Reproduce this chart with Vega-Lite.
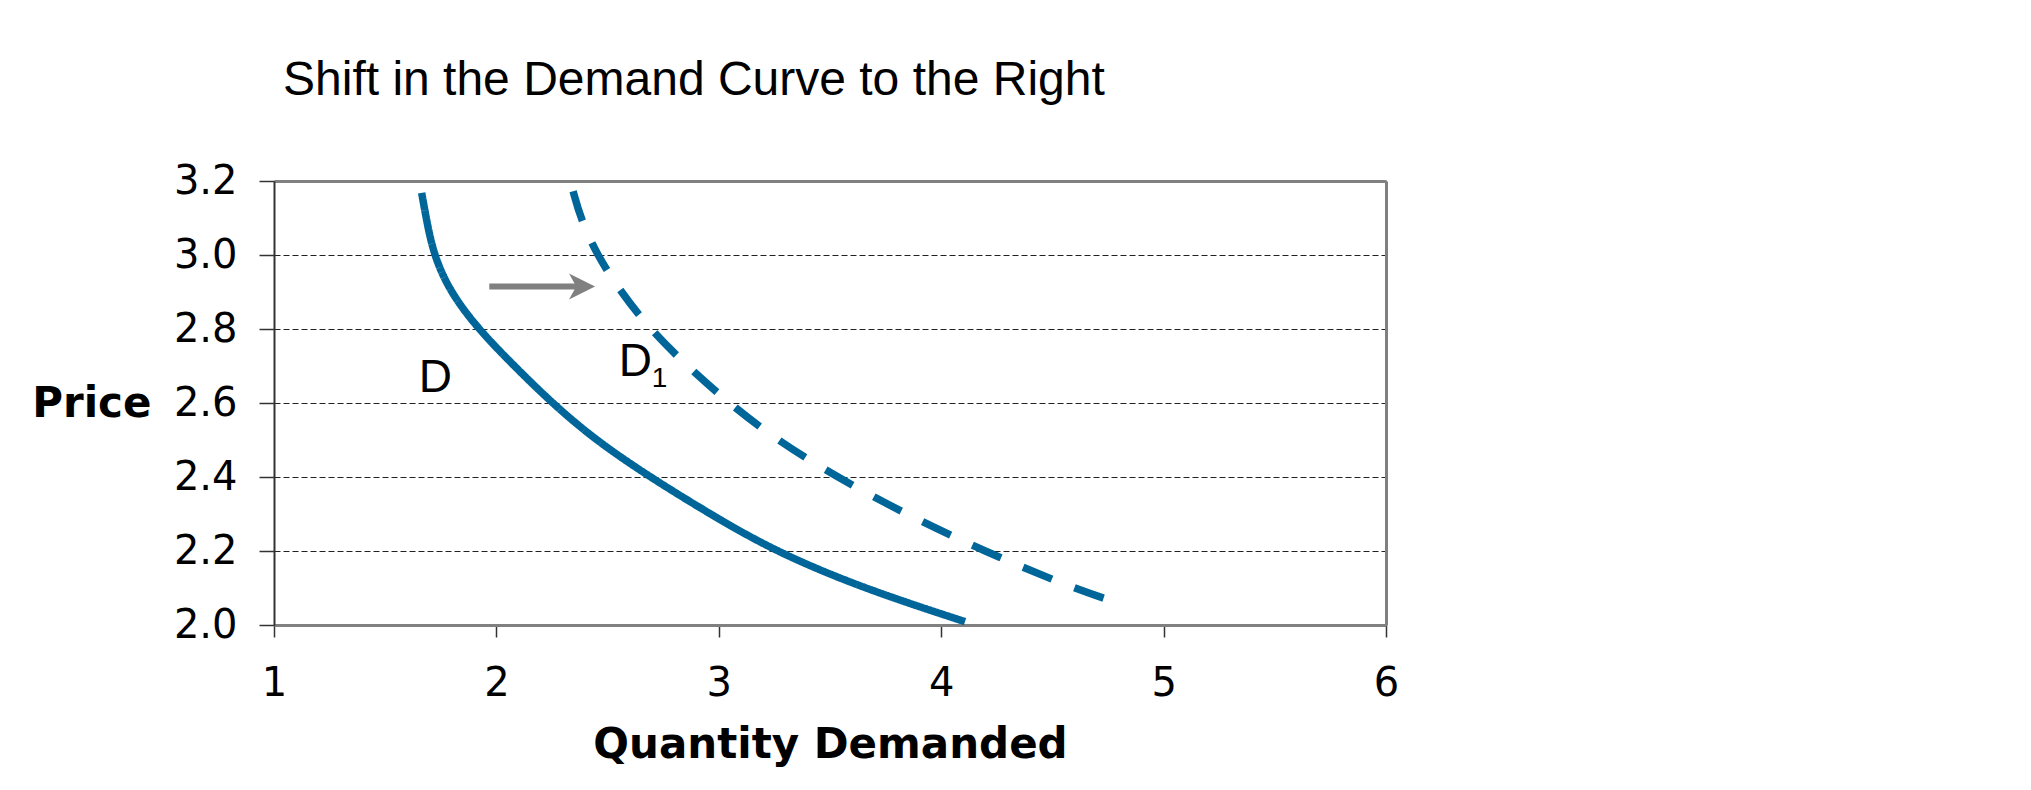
{
  "$schema": "https://vega.github.io/schema/vega-lite/v6.json",
  "autosize": {"type": "none"},
  "padding": {"left": 274, "top": 181, "right": 645, "bottom": 165},
  "width": 1112,
  "height": 444,
  "background": "white",
  "title": {
    "text": "Shift in the Demand Curve to the Right",
    "anchor": "start",
    "frame": "group",
    "dx": 9,
    "offset": 18,
    "baseline": "alphabetic",
    "fontSize": 48,
    "fontWeight": "normal",
    "font": "Liberation Sans",
    "color": "black"
  },
  "datasets": {
    "curves": [
      {"curve": "D", "q": 1.664, "p": 3.168},
      {"curve": "D", "q": 1.684, "p": 3.1},
      {"curve": "D", "q": 1.718, "p": 3.0},
      {"curve": "D", "q": 1.792, "p": 2.9},
      {"curve": "D", "q": 1.918, "p": 2.8},
      {"curve": "D", "q": 2.08, "p": 2.7},
      {"curve": "D", "q": 2.25, "p": 2.6},
      {"curve": "D", "q": 2.445, "p": 2.5},
      {"curve": "D", "q": 2.69, "p": 2.4},
      {"curve": "D", "q": 2.96, "p": 2.3},
      {"curve": "D", "q": 3.25, "p": 2.2},
      {"curve": "D", "q": 3.645, "p": 2.1},
      {"curve": "D", "q": 4.107, "p": 2.009},
      {"curve": "D1", "q": 2.345, "p": 3.172},
      {"curve": "D1", "q": 2.378, "p": 3.1},
      {"curve": "D1", "q": 2.452, "p": 3.0},
      {"curve": "D1", "q": 2.56, "p": 2.9},
      {"curve": "D1", "q": 2.69, "p": 2.8},
      {"curve": "D1", "q": 2.858, "p": 2.7},
      {"curve": "D1", "q": 3.045, "p": 2.6},
      {"curve": "D1", "q": 3.26, "p": 2.5},
      {"curve": "D1", "q": 3.53, "p": 2.4},
      {"curve": "D1", "q": 3.84, "p": 2.3},
      {"curve": "D1", "q": 4.19, "p": 2.2},
      {"curve": "D1", "q": 4.59, "p": 2.1},
      {"curve": "D1", "q": 4.78, "p": 2.063}
    ],
    "arrow": [{"q": 1.968, "q2": 2.36, "p": 2.915}],
    "head": [{"q": 2.385, "p": 2.915}],
    "labels": [
      {"q": 1.725, "p": 2.631, "label": "D"},
      {"q": 2.625, "p": 2.672, "label": "D"}
    ],
    "subs": [{"q": 2.734, "p": 2.642, "label": "1"}]
  },
  "resolve": {"axis": {"x": "independent", "y": "independent"}},
  "layer": [
    {
      "data": {"name": "curves"},
      "mark": {"type": "line", "interpolate": "basis", "strokeWidth": 7.5, "color": "#006699"},
      "encoding": {
        "x": {
          "field": "q", "type": "quantitative",
          "scale": {"domain": [1, 6], "nice": false, "zero": false},
          "axis": {
            "orient": "bottom",
            "title": "Quantity Demanded",
            "values": [1, 2, 3, 4, 5, 6],
            "format": "d",
            "grid": false,
            "domainColor": "#808080",
            "domainWidth": 3,
            "tickColor": "#333333",
            "tickWidth": 1.5,
            "tickSize": 12,
            "labelPadding": 26,
            "labelFont": "DejaVu Sans",
            "labelFontSize": 40,
            "labelColor": "black",
            "labelFlush": false,
            "titleFont": "DejaVu Sans",
            "titleFontSize": 42,
            "titleFontWeight": "bold",
            "titleColor": "black",
            "titleX": 556,
            "titleY": 132,
            "titleAlign": "center",
            "titleBaseline": "alphabetic"
          }
        },
        "y": {
          "field": "p", "type": "quantitative",
          "scale": {"domain": [2, 3.2], "nice": false, "zero": false},
          "axis": {
            "orient": "left",
            "title": "Price",
            "values": [2, 2.2, 2.4, 2.6, 2.8, 3, 3.2],
            "format": ".1f",
            "grid": true,
            "gridDash": [6, 3],
            "gridColor": "#222222",
            "gridWidth": 1,
            "domainColor": "#333333",
            "domainWidth": 2,
            "tickColor": "#333333",
            "tickWidth": 1.5,
            "tickSize": 15,
            "labelPadding": 22,
            "labelFont": "DejaVu Sans",
            "labelFontSize": 40,
            "labelColor": "black",
            "labelFlush": false,
            "titleFont": "DejaVu Sans",
            "titleFontSize": 42,
            "titleFontWeight": "bold",
            "titleColor": "black",
            "titleAngle": 0,
            "titleAlign": "right",
            "titleBaseline": "middle",
            "titleX": -123,
            "titleY": 222
          }
        },
        "strokeDash": {
          "field": "curve", "type": "nominal",
          "scale": {"domain": ["D", "D1"], "range": [[1, 0], [31, 24]]},
          "legend": null
        }
      }
    },
    {
      "data": {"name": "arrow"},
      "mark": {"type": "rule", "strokeWidth": 6, "color": "#808080"},
      "encoding": {
        "x": {
          "field": "q", "type": "quantitative",
          "axis": {"orient": "top", "title": null, "labels": false, "ticks": false, "grid": false, "domainColor": "#808080", "domainWidth": 3}
        },
        "x2": {"field": "q2"},
        "y": {
          "field": "p", "type": "quantitative",
          "axis": {"orient": "right", "title": null, "labels": false, "ticks": false, "grid": false, "domainColor": "#808080", "domainWidth": 3}
        }
      }
    },
    {
      "data": {"name": "head"},
      "mark": {"type": "point", "shape": "M-1,-1L1,0L-1,1L-0.45,0Z", "filled": true, "size": 676, "color": "#808080", "opacity": 1},
      "encoding": {
        "x": {"field": "q", "type": "quantitative", "axis": null},
        "y": {"field": "p", "type": "quantitative", "axis": null}
      }
    },
    {
      "data": {"name": "labels"},
      "mark": {"type": "text", "font": "Liberation Sans", "fontSize": 46, "align": "center", "baseline": "alphabetic", "color": "black"},
      "encoding": {
        "x": {"field": "q", "type": "quantitative", "axis": null},
        "y": {"field": "p", "type": "quantitative", "axis": null},
        "text": {"field": "label"}
      }
    },
    {
      "data": {"name": "subs"},
      "mark": {"type": "text", "font": "Liberation Sans", "fontSize": 28, "align": "center", "baseline": "alphabetic", "color": "black"},
      "encoding": {
        "x": {"field": "q", "type": "quantitative", "axis": null},
        "y": {"field": "p", "type": "quantitative", "axis": null},
        "text": {"field": "label"}
      }
    }
  ],
  "config": {
    "view": {"stroke": null},
    "font": "Liberation Sans"
  }
}
